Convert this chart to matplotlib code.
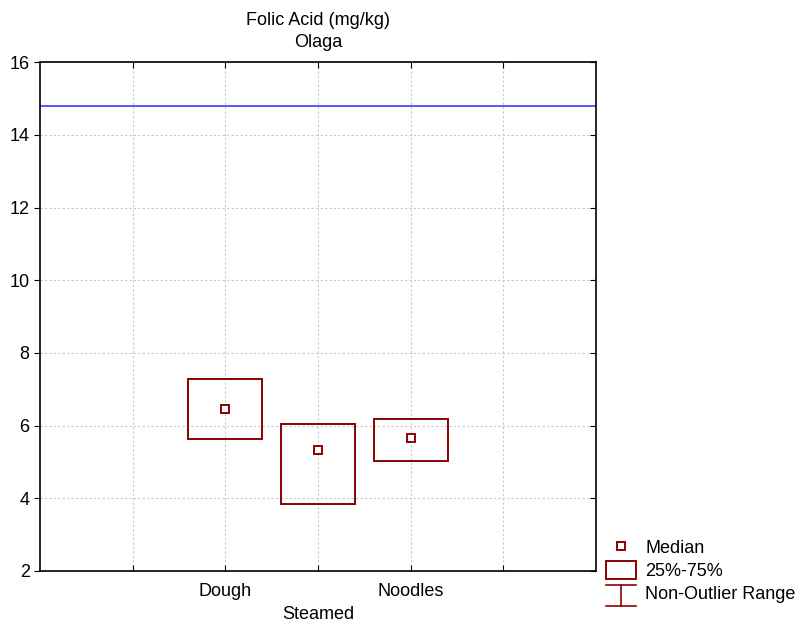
import numpy as np
import matplotlib.pyplot as plt
from matplotlib.lines import Line2D
from matplotlib.patches import Rectangle
from matplotlib.legend_handler import HandlerBase

plt.rcParams['font.family'] = ['Liberation Sans', 'DejaVu Sans']

groups = ['Dough', 'Steamed', 'Noodles']
positions = [2, 3, 4]
q1 = [5.63, 3.85, 5.03]
q3 = [7.27, 6.05, 6.18]
medians = [6.45, 5.32, 5.67]
whisker_lo = [5.63, 3.85, 5.03]
whisker_hi = [7.27, 6.05, 6.18]
ref_level = 14.79

box_color = '#8b0000'


class WhiskerHandler(HandlerBase):
    def create_artists(self, legend, orig_handle, xdescent, ydescent,
                       width, height, fontsize, trans):
        x0, x1 = -xdescent, -xdescent + width
        xm = (x0 + x1) / 2
        y0, y1 = -ydescent - 0.25 * height, -ydescent + 0.95 * height
        lines = [
            Line2D([x0, x1], [y1, y1]),
            Line2D([xm, xm], [y0, y1]),
            Line2D([x0, x1], [y0, y0]),
        ]
        for ln in lines:
            ln.set_color(box_color)
            ln.set_linewidth(1.2)
            ln.set_transform(trans)
        return lines


fig = plt.figure(figsize=(8.01, 6.28), dpi=100)
ax = fig.add_axes([0.05, 0.091, 0.694, 0.81])

ax.axhline(ref_level, color='#3a3aff', lw=1.2, zorder=2)

for x, lo, hi, med, wl, wh in zip(positions, q1, q3, medians, whisker_lo, whisker_hi):
    ax.vlines(x, wl, lo, color=box_color, lw=1)
    ax.vlines(x, hi, wh, color=box_color, lw=1)
    ax.add_patch(Rectangle((x - 0.4, lo), 0.8, hi - lo, fill=False,
                           edgecolor=box_color, lw=1.4, zorder=3))
ax.plot(positions, medians, 's', ms=6, mfc='white', mec=box_color,
        mew=1.4, ls='none', zorder=4)

ax.set_xlim(0, 6)
ax.set_ylim(2, 16)
ax.set_yticks(np.arange(2, 17, 2))
ax.set_xticks([1, 2, 3, 4, 5])
ax.set_xticklabels(['', 'Dough', '\nSteamed', 'Noodles', ''], linespacing=1.45)
ax.tick_params(axis='x', direction='in', top=True, length=4, labelsize=13, pad=9)
ax.tick_params(axis='y', direction='out', length=4, labelsize=13)
ax.tick_params(axis='y', which='both', right=True)
for t in ax.yaxis.get_major_ticks():
    t.tick2line.set_marker(0)  # right-side ticks point inward
ax.grid(True, color='#c8c8c8', ls=(0, (2, 2)), lw=0.8)
ax.set_axisbelow(True)
for s in ax.spines.values():
    s.set_linewidth(1.2)

ax.set_title('Folic Acid (mg/kg)\nOlaga', fontsize=13, pad=11, linespacing=1.4)

handles = [
    Line2D([], [], marker='s', ms=6, mfc='white', mec=box_color, mew=1.4, ls='none'),
    Rectangle((0, 0), 1, 1, fill=False, edgecolor=box_color, lw=1.4),
    Line2D([], []),
]
fig.legend(handles, ['Median', '25%-75%', 'Non-Outlier Range'],
           handler_map={handles[2]: WhiskerHandler()},
           loc='lower left', bbox_to_anchor=(0.757, 0.04), frameon=False,
           fontsize=13, handlelength=1.65, handleheight=1.1,
           handletextpad=0.5, labelspacing=0.22, borderpad=0.0,
           borderaxespad=0.0)

fig.savefig('out.png', dpi=100)
